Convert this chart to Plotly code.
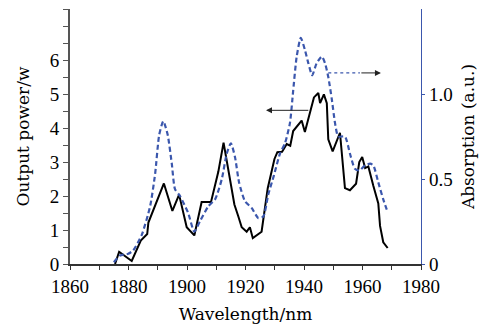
import plotly.graph_objects as go

power_wl = [1875.4, 1876.8, 1881.1, 1884.2, 1886.4, 1886.8, 1892.1, 1895.0, 1897.3, 1899.9,
            1902.5, 1905.0, 1908.2, 1910.7, 1912.5, 1916.2, 1917.5, 1918.7, 1920.4, 1921.5,
            1922.5, 1925.5, 1927.6, 1929.9, 1930.9, 1932.5, 1934.1, 1935.3, 1936.3, 1939.2,
            1940.3, 1941.8, 1943.4, 1944.9, 1945.5, 1946.8, 1947.8, 1948.3, 1949.8, 1952.3,
            1954.0, 1955.7, 1957.8, 1958.9, 1959.9, 1960.9, 1962.0, 1963.7, 1965.4, 1966.0,
            1967.1, 1968.6]
power_w = [0.0, 0.36, 0.09, 0.69, 0.88, 1.22, 2.37, 1.56, 2.04, 1.08,
           0.84, 1.82, 1.82, 2.71, 3.57, 1.75, 1.41, 1.08, 0.95, 1.08,
           0.76, 0.95, 2.23, 3.09, 3.29, 3.30, 3.53, 3.48, 3.91, 4.22,
           3.88, 4.34, 4.90, 5.03, 4.73, 4.99, 4.73, 3.67, 3.31, 3.86,
           2.23, 2.17, 2.36, 3.00, 3.15, 2.82, 2.87, 2.30, 1.78, 1.12,
           0.64, 0.47]

abs_wl = [1875.0, 1877.1, 1879.9, 1881.6, 1884.5, 1887.4, 1889.1, 1890.5, 1891.9, 1893.4,
          1894.8, 1895.9, 1897.6, 1900.4, 1902.5, 1904.4, 1907.3, 1909.6, 1911.9, 1913.6,
          1915.0, 1916.4, 1917.8, 1919.8, 1922.1, 1924.4, 1926.1, 1927.8, 1929.7, 1931.8,
          1933.5, 1935.2, 1936.3, 1937.5, 1938.9, 1940.3, 1941.5, 1942.8, 1944.3, 1946.1,
          1947.2, 1948.3, 1949.5, 1950.6, 1951.7, 1954.0, 1955.7, 1957.4, 1958.9, 1960.9,
          1962.6, 1963.7, 1965.4, 1967.1, 1968.3]
absorption = [0.01, 0.05, 0.06, 0.08, 0.17, 0.34, 0.53, 0.76, 0.84, 0.76,
              0.59, 0.44, 0.40, 0.30, 0.19, 0.25, 0.34, 0.38, 0.50, 0.65,
              0.71, 0.63, 0.48, 0.37, 0.33, 0.27, 0.28, 0.41, 0.52, 0.65,
              0.71, 0.83, 1.02, 1.22, 1.33, 1.26, 1.18, 1.11, 1.18, 1.22,
              1.18, 1.10, 0.97, 0.83, 0.75, 0.75, 0.65, 0.56, 0.55, 0.58,
              0.59, 0.58, 0.48, 0.38, 0.32]

x_ticks = [1860, 1880, 1900, 1920, 1940, 1960, 1980]
y_ticks = [0, 1, 2, 3, 4, 5, 6, 7]
y_labels = ["0", "1", "2", "3", "4", "5", "6", ""]
y2_ticks = [0, 0.5, 1.0]
y2_labels = ["0", "0.5", "1.0"]

BLUE = "#3b57ad"
FONT = "Liberation Serif"
TFONT = "DejaVu Serif"

fig = go.Figure()
fig.add_trace(go.Scatter(x=abs_wl, y=absorption, yaxis="y2", mode="lines",
                         line=dict(color=BLUE, width=2.2, dash="5px,3px", shape="spline", smoothing=0.6),
                         showlegend=False))
fig.add_trace(go.Scatter(x=power_wl, y=power_w, mode="lines",
                         line=dict(color="black", width=2), showlegend=False))

# arrow pointing to left axis (power curve)
fig.add_annotation(x=1927.0, y=4.52, ax=1942.0, ay=4.52, xref="x", yref="y", axref="x", ayref="y",
                   showarrow=True, arrowhead=2, arrowsize=1.2, arrowwidth=1, arrowcolor="#222", text="")
# dotted blue part + arrow pointing to right axis
fig.add_shape(type="line", x0=1948.3, x1=1959.1, y0=5.62, y1=5.62, xref="x", yref="y",
              line=dict(color=BLUE, width=1.2, dash="dot"))
fig.add_annotation(x=1966.3, y=5.62, ax=1959.1, ay=5.62, xref="x", yref="y", axref="x", ayref="y",
                   showarrow=True, arrowhead=2, arrowsize=1.2, arrowwidth=1, arrowcolor="#222", text="")

fig.update_layout(
    width=492, height=330,
    margin=dict(l=70, r=71, t=9, b=61),
    paper_bgcolor="white", plot_bgcolor="white",
    font=dict(family=FONT, size=18, color="black"),
    xaxis=dict(range=[1860, 1980], tickvals=x_ticks, ticks="outside", ticklen=4, tickcolor="#333",
               showline=True, linecolor="#333", linewidth=1.5, showgrid=False, zeroline=False,
               minor=dict(dtick=10, ticks="outside", ticklen=4, tickcolor="#333"),
               title=dict(text="Wavelength/nm", font=dict(family=TFONT, size=17), standoff=13),
               tickfont=dict(family=FONT, size=19)),
    yaxis=dict(range=[0, 7.5], tickvals=y_ticks, ticktext=y_labels, ticks="outside", ticklen=5,
               tickcolor="#555", showline=True, linecolor="#555", linewidth=2, showgrid=False,
               zeroline=False,
               minor=dict(dtick=0.5, ticks="outside", ticklen=5, tickcolor="#555"),
               title=dict(text="Output power/w", font=dict(family=TFONT, size=17), standoff=16),
               tickfont=dict(family=FONT, size=19)),
    yaxis2=dict(range=[0, 1.5], overlaying="y", side="right", tickvals=y2_ticks, ticktext=y2_labels,
                ticks="outside", ticklen=3, tickcolor=BLUE, showline=True, linecolor=BLUE,
                linewidth=1.2, showgrid=False, zeroline=False,
                title=dict(text="Absorption (a.u.)", font=dict(family=TFONT, size=17), standoff=10),
                tickfont=dict(family=FONT, size=19)),
)

fig.write_html("out.html", config={"displayModeBar": False},
               post_script="document.body.style.margin='0';")
